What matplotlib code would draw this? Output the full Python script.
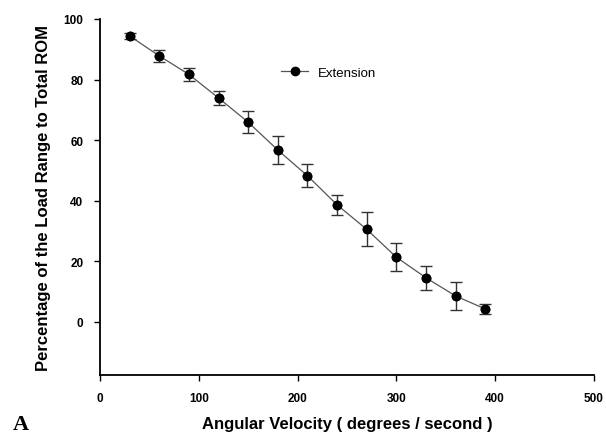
import matplotlib
matplotlib.use("Agg")
import matplotlib.pyplot as plt

velocity = [30, 60, 90, 120, 150, 180, 210, 240, 270, 300, 330, 360, 390]
extension = [94.4, 87.8, 81.7, 73.9, 65.9, 56.7, 48.2, 38.6, 30.5, 21.3, 14.5, 8.5, 4.2]
extension_err = [1.0, 2.1, 2.1, 2.4, 3.6, 4.5, 3.8, 3.2, 5.6, 4.6, 4.0, 4.7, 1.8]
xticks = [0, 100, 200, 300, 400, 500]
yticks = [0, 20, 40, 60, 80, 100]

plt.rcParams['font.family'] = ['Liberation Sans', 'DejaVu Sans']

fig = plt.figure(figsize=(6.06, 4.35), dpi=100)
ax = fig.add_axes([100/606, 1-376/435, 494/606, 356/435])

ax.errorbar(velocity, extension, yerr=extension_err, fmt='o', color='black',
            ecolor='#333333', elinewidth=1.0, capsize=4, capthick=1.0,
            markersize=6, zorder=3)
ax.plot(velocity, extension, '-', color='#555555', lw=0.9, marker='o',
        markersize=6, markerfacecolor='black', markeredgecolor='black',
        label='Extension', zorder=2)

ax.set_xlim(0, 500)
ax.set_ylim(-17.6, 100)
ax.set_xticks(xticks)
ax.set_yticks(yticks)
for s in ['top', 'right']:
    ax.spines[s].set_visible(False)
for s in ['left', 'bottom']:
    ax.spines[s].set_linewidth(1.3)
ax.tick_params(direction='out', length=4, width=1, labelsize=8.5, pad=8)
for lab in ax.get_xticklabels() + ax.get_yticklabels():
    lab.set_fontweight('bold')

ax.set_xlabel('Angular Velocity ( degrees / second )', fontsize=12,
              fontweight='bold', labelpad=9)
ax.set_ylabel('Percentage of the Load Range to Total ROM', fontsize=12,
              fontweight='bold', labelpad=9)

leg = ax.legend(loc='upper left', bbox_to_anchor=(0.343, 0.90), frameon=False,
                fontsize=9.5, handlelength=2.0, handletextpad=0.8)

fig.text(13/606, 1-430/435, 'A', family=['Liberation Serif', 'DejaVu Serif'],
         fontweight='bold', fontsize=16, va='baseline')

fig.savefig('out.png', dpi=100)
